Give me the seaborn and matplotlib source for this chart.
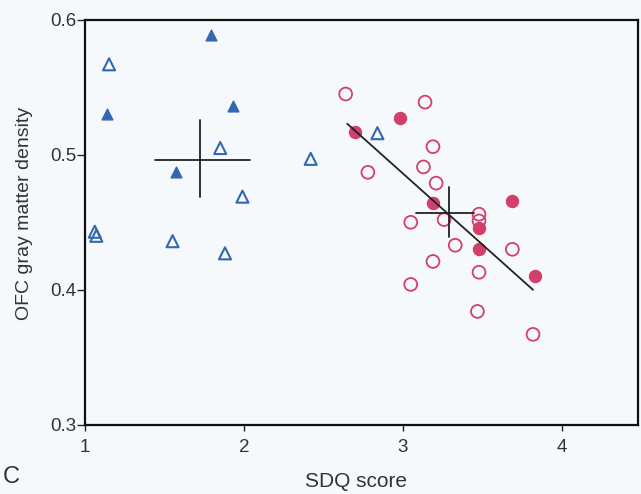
import numpy as np
import pandas as pd
import matplotlib
matplotlib.use("Agg")
import matplotlib.pyplot as plt
import seaborn as sns

# blue triangles
tri_open_x = [1.15, 1.06, 1.07, 1.85, 1.99, 1.55, 1.88, 2.42, 2.84]
tri_open_y = [0.567, 0.443, 0.440, 0.505, 0.469, 0.436, 0.427, 0.497, 0.516]
tri_fill_x = [1.79, 1.14, 1.93, 1.57]
tri_fill_y = [0.589, 0.530, 0.536, 0.487]

# red circles
circ_open_x = [2.64, 3.14, 3.19, 2.78, 3.13, 3.21, 3.05, 3.26, 3.48, 3.48,
               3.33, 3.19, 3.48, 3.69, 3.05, 3.47, 3.82]
circ_open_y = [0.545, 0.539, 0.506, 0.487, 0.491, 0.479, 0.450, 0.452, 0.456, 0.451,
               0.433, 0.421, 0.413, 0.430, 0.404, 0.384, 0.367]
circ_fill_x = [2.98, 2.70, 3.19, 3.69, 3.48, 3.83, 3.48]
circ_fill_y = [0.527, 0.517, 0.464, 0.466, 0.430, 0.410, 0.446]

# group means (cross) and extents
blue_mean = (1.72, 0.496)
blue_xrange = (1.44, 2.04)
blue_yrange = (0.469, 0.526)
red_mean = (3.29, 0.457)
red_xrange = (3.08, 3.45)
red_yrange = (0.439, 0.476)

# fit line ends
fit_x = [2.65, 3.82]
fit_y = [0.523, 0.400]

blue = "#3168b0"
red = "#d33f6c"

sns.set_style("ticks")
plt.rcParams["font.family"] = ["Liberation Sans", "DejaVu Sans"]

fig = plt.figure(figsize=(6.41, 4.94), dpi=100, facecolor="#f6f9fb")
ax = fig.add_axes([0.133, 0.140, 0.862, 0.820])
ax.set_facecolor("#f6f9fb")

df_to = pd.DataFrame({"x": tri_open_x, "y": tri_open_y})
df_tf = pd.DataFrame({"x": tri_fill_x, "y": tri_fill_y})
df_co = pd.DataFrame({"x": circ_open_x, "y": circ_open_y})
df_cf = pd.DataFrame({"x": circ_fill_x, "y": circ_fill_y})

sns.scatterplot(data=df_to, x="x", y="y", marker="^", s=75, facecolors="none",
                edgecolor=blue, linewidth=1.5, ax=ax, zorder=3)
sns.scatterplot(data=df_tf, x="x", y="y", marker="^", s=60, color=blue,
                edgecolor=blue, linewidth=1, ax=ax, zorder=3)
sns.scatterplot(data=df_co, x="x", y="y", marker="o", s=85, facecolors="none",
                edgecolor=red, linewidth=1.3, ax=ax, zorder=3)
sns.scatterplot(data=df_cf, x="x", y="y", marker="o", s=75, color=red,
                edgecolor=red, linewidth=1, ax=ax, zorder=3)

for m, xr, yr in [(blue_mean, blue_xrange, blue_yrange), (red_mean, red_xrange, red_yrange)]:
    ax.plot(xr, [m[1], m[1]], color="#222222", lw=1.3, zorder=4)
    ax.plot([m[0], m[0]], yr, color="#222222", lw=1.3, zorder=4)

sns.lineplot(x=fit_x, y=fit_y, color="#222222", lw=1.3, ax=ax, zorder=4)

ax.set_xlim(1, 4.48)
ax.set_ylim(0.3, 0.6)
ax.set_xticks([1, 2, 3, 4])
ax.set_xticklabels(["1", "2", "3", "4"])
ax.set_yticks([0.3, 0.4, 0.5, 0.6])
ax.set_yticklabels(["0.3", "0.4", "0.5", "0.6"])
ax.tick_params(labelsize=13.5, width=1, colors="#222222", labelcolor="#333333")
ax.tick_params(axis="x", length=4, pad=6)
ax.tick_params(axis="y", length=5.5, pad=1)
for sp in ax.spines.values():
    sp.set_visible(True)
    sp.set_linewidth(1.6)
    sp.set_color("#111111")

ax.set_xlabel("SDQ score", fontsize=15, color="#333333")
ax.set_ylabel("OFC gray matter density", fontsize=14, color="#333333")
ax.xaxis.set_label_coords(0.49, -0.117)
ax.yaxis.set_label_coords(-0.094, 0.523)
fig.text(0.004, 0.022, "C", fontsize=17, color="#333333")

fig.savefig("out.png", dpi=100, facecolor=fig.get_facecolor())
